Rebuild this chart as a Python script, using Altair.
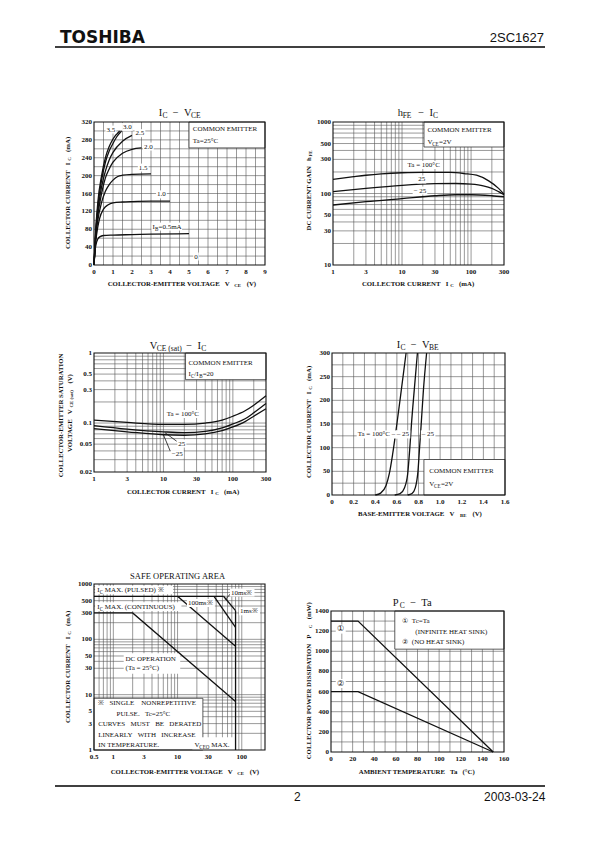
import altair as alt
import pandas as pd

# ====================== DATA ======================
# Panel 1 : IC - VCE  (IB parameter, mA)
vce_x_05 = [0, 0.05, 0.1, 0.2, 0.3, 0.5, 1, 2, 3, 5]
vce_y_05 = [0, 30, 45, 58, 63, 66, 67, 68, 69, 70]
vce_x_10 = [0, 0.1, 0.2, 0.3, 0.5, 0.75, 1, 1.5, 2, 3, 4]
vce_y_10 = [0, 55, 85, 105, 125, 135, 139, 141, 142, 143, 143]
vce_x_15 = [0, 0.1, 0.2, 0.4, 0.6, 0.8, 1, 1.25, 1.5, 2, 3]
vce_y_15 = [0, 65, 100, 140, 165, 180, 190, 198, 201, 203, 204]
vce_x_20 = [0, 0.1, 0.2, 0.4, 0.6, 0.8, 1, 1.5, 2, 2.5]
vce_y_20 = [0, 70, 110, 160, 195, 215, 230, 250, 259, 262]
vce_x_25 = [0, 0.1, 0.2, 0.4, 0.6, 0.8, 1, 1.5, 2]
vce_y_25 = [0, 75, 120, 175, 210, 235, 252, 277, 290]
vce_x_30 = [0, 0.1, 0.2, 0.4, 0.6, 0.8, 1, 1.2, 1.45]
vce_y_30 = [0, 80, 130, 190, 230, 255, 272, 287, 300]
vce_x_35 = [0, 0.1, 0.2, 0.4, 0.6, 0.8, 1, 1.35]
vce_y_35 = [0, 85, 140, 200, 240, 265, 282, 300]
vce_xticks = [0, 1, 2, 3, 4, 5, 6, 7, 8, 9]
vce_yticks = [0, 40, 80, 120, 160, 200, 240, 280, 320]

# Panel 2 : hFE - IC
hfe_ic_100 = [1, 2, 3, 5, 10, 20, 50, 80, 120, 180, 250, 300]
hfe_100 = [158, 172, 180, 188, 195, 198, 197, 190, 180, 150, 118, 98]
hfe_ic_25 = [1, 3, 10, 30, 60, 100, 150, 200, 250, 300]
hfe_25 = [106, 118, 130, 137, 138, 135, 128, 118, 106, 96]
hfe_ic_m25 = [1, 3, 10, 30, 60, 100, 200, 300]
hfe_m25 = [69, 77, 85, 93, 96, 96, 93, 90]
log_xticks = [1, 3, 10, 30, 100, 300]
hfe_yticks = [10, 30, 50, 100, 300, 500, 1000]

# Panel 3 : VCE(sat) - IC
sat_ic = [1, 3, 10, 20, 40, 70, 100, 150, 200, 300]
sat_100 = [0.11, 0.102, 0.096, 0.096, 0.1, 0.11, 0.125, 0.15, 0.18, 0.245]
sat_25 = [0.092, 0.082, 0.075, 0.073, 0.076, 0.085, 0.097, 0.115, 0.14, 0.19]
sat_m25 = [0.083, 0.075, 0.068, 0.067, 0.07, 0.078, 0.088, 0.105, 0.125, 0.16]
sat_yticks = [0.02, 0.05, 0.1, 0.3, 0.5, 1]

# Panel 4 : IC - VBE
vbe_x_100 = [0.40, 0.45, 0.50, 0.53, 0.56, 0.60, 0.64, 0.685]
vbe_y_100 = [0, 4, 20, 45, 85, 150, 220, 300]
vbe_x_25 = [0.58, 0.63, 0.67, 0.70, 0.72, 0.735, 0.76, 0.79]
vbe_y_25 = [0, 3, 15, 45, 100, 150, 220, 300]
vbe_x_m25 = [0.70, 0.74, 0.77, 0.795, 0.81, 0.825, 0.845, 0.875]
vbe_y_m25 = [0, 3, 15, 50, 100, 150, 220, 300]
vbe_xticks = [0, 0.2, 0.4, 0.6, 0.8, 1.0, 1.2, 1.4, 1.6]
vbe_xlabels = ["0", "0.2", "0.4", "0.6", "0.8", "1.0", "1.2", "1.4", "1.6"]
vbe_yticks = [0, 50, 100, 150, 200, 250, 300]

# Panel 5 : Safe operating area
soa_pulsed_v = [0.5, 52]
soa_pulsed_i = [600, 600]
soa_1ms_v = [52, 80]
soa_1ms_i = [600, 330]
soa_10ms_v = [37, 80]
soa_10ms_i = [600, 165]
soa_100ms_v = [10, 80]
soa_100ms_i = [600, 75]
soa_dc_v = [0.5, 2, 80]
soa_dc_i = [300, 300, 7.5]
soa_vceo_v = [80, 80]
soa_vceo_i = [330, 1]
soa_xticks = [0.5, 1, 3, 10, 30, 100]
soa_yticks = [1, 3, 5, 10, 30, 50, 100, 300, 500, 1000]

# Panel 6 : PC - Ta
pc_ta_1 = [0, 25, 150]
pc_1 = [1300, 1300, 0]
pc_ta_2 = [0, 25, 150]
pc_2 = [600, 600, 0]
pc_xticks = [0, 20, 40, 60, 80, 100, 120, 140, 160]
pc_yticks = [0, 200, 400, 600, 800, 1000, 1200, 1400]

# ====================== HELPERS ======================
SERIF = "Liberation Serif"
SANS = "Liberation Sans"
M = 8
NB = "\u00a0"
WS = " " + NB
SUBF = 0.72
ONE = pd.DataFrame({"k": [0]})
INK = "#111111"
GRID = "#555555"


def tw(s, size, weight="normal"):
    w = 0.0
    for ch in s:
        if ch in "※①②":
            w += 1.0
        elif ch in "MW":
            w += 0.9
        elif ch == "I":
            w += 0.36
        elif ch.isupper():
            w += 0.68
        elif ch in "ilj":
            w += 0.28
        elif ch in "mw":
            w += 0.74
        elif ch in "tfr":
            w += 0.34
        elif ch.islower():
            w += 0.47
        elif ch.isdigit():
            w += 0.5
        elif ch in WS + ".,:":
            w += 0.25
        elif ch in "()/-":
            w += 0.33
        elif ch in "=−–":
            w += 0.56
        elif ch == "°":
            w += 0.4
        else:
            w += 0.5
    return w * size * (1.06 if weight == "bold" else 1.0)


def rich(parts, size, x, y, panel=None, align="center", angle=0, weight="normal", font=SERIF, bg=False):
    if isinstance(parts, str):
        parts = [(parts, 0)]
    segs = []
    for s, sb in parts:
        fs = size * (SUBF if sb else 1)
        core = s.strip(WS)
        lead = s[:len(s) - len(s.lstrip(WS))]
        trail = s[len(s.rstrip(WS)):] if core else ""
        segs.append((core, sb, fs, tw(lead, fs, weight), tw(core, fs, weight), tw(trail, fs, weight)))
    total = sum(a + b + c for (_, _, _, a, b, c) in segs)
    start = {"left": 0, "center": -total / 2, "right": -total}[align]
    pos = pd.DataFrame({"x": [x], "y": [y]})
    out = []
    if bg and panel is not None:
        out.append(alt.Chart(pos).mark_rect(
            fill="white", width=total + 2, height=size + 1, xOffset=start + total / 2).encode(
            x=panel.X("x"), y=panel.Y("y")))
    off = start
    for core, sb, fs, lw, cw, trw in segs:
        off += lw
        if core:
            mk = dict(text=core, font=font, fontSize=fs, fontWeight=weight, color=INK,
                      align="left", baseline="middle", angle=angle, dx=off,
                      dy=size * 0.3 if sb else 0)
            if panel is not None:
                c = alt.Chart(pos).mark_text(**mk).encode(x=panel.X("x"), y=panel.Y("y"))
            else:
                c = alt.Chart(ONE).mark_text(**mk).encode(x=alt.value(x - M), y=alt.value(y - M))
            out.append(c)
        off += cw + trw
    return out


class Panel:
    def __init__(self, box, xdom, ydom, xtype, ytype):
        self.x0, self.x1, self.y0, self.y1 = box
        self.xdom, self.ydom = xdom, ydom
        self.xs = alt.Scale(type=xtype, domain=xdom, range=[self.x0 - M, self.x1 - M], nice=False)
        self.ys = alt.Scale(type=ytype, domain=ydom, range=[self.y1 - M, self.y0 - M], nice=False)
        self.layers = []

    def X(self, f):
        return alt.X(f"{f}:Q", scale=self.xs, axis=None)

    def Y(self, f):
        return alt.Y(f"{f}:Q", scale=self.ys, axis=None)

    def grid(self, xv, yv, color=GRID, width=0.6):
        dv = pd.DataFrame({"v": xv, "a": self.ydom[0], "b": self.ydom[1]})
        self.layers.append(alt.Chart(dv).mark_rule(color=color, strokeWidth=width).encode(
            x=self.X("v"), y=self.Y("a"), y2=alt.Y2("b")))
        dh = pd.DataFrame({"v": yv, "a": self.xdom[0], "b": self.xdom[1]})
        self.layers.append(alt.Chart(dh).mark_rule(color=color, strokeWidth=width).encode(
            y=self.Y("v"), x=self.X("a"), x2=alt.X2("b")))

    def rect(self, xa, xb, ya, yb, stroke=None, sw=0.8):
        d = pd.DataFrame({"xa": [xa], "xb": [xb], "ya": [ya], "yb": [yb]})
        kw = dict(fill="white")
        if stroke:
            kw.update(stroke=stroke, strokeWidth=sw)
        self.layers.append(alt.Chart(d).mark_rect(**kw).encode(
            x=self.X("xa"), x2=alt.X2("xb"), y=self.Y("ya"), y2=alt.Y2("yb")))

    def frame(self):
        d = pd.DataFrame({"xa": [self.xdom[0]], "xb": [self.xdom[1]],
                          "ya": [self.ydom[0]], "yb": [self.ydom[1]]})
        self.layers.append(alt.Chart(d).mark_rect(fillOpacity=0, stroke=INK, strokeWidth=1.1).encode(
            x=self.X("xa"), x2=alt.X2("xb"), y=self.Y("ya"), y2=alt.Y2("yb")))

    def line(self, xv, yv, width=1.3, interp="monotone"):
        d = pd.DataFrame({"x": xv, "y": yv})
        self.layers.append(alt.Chart(d).mark_line(color=INK, strokeWidth=width, interpolate=interp).encode(
            x=self.X("x"), y=self.Y("y")))

    def xticks(self, vals, labels=None, size=7):
        labels = labels or [f"{v:g}" for v in vals]
        d = pd.DataFrame({"v": vals, "t": labels, "b": self.ydom[0]})
        self.layers.append(alt.Chart(d).mark_text(
            font=SERIF, fontSize=size, fontWeight="bold", color=INK, align="center",
            baseline="middle", dy=7).encode(x=self.X("v"), y=self.Y("b"), text="t:N"))

    def yticks(self, vals, labels=None, size=7):
        labels = labels or [f"{v:g}" for v in vals]
        d = pd.DataFrame({"v": vals, "t": labels, "a": self.xdom[0]})
        self.layers.append(alt.Chart(d).mark_text(
            font=SERIF, fontSize=size, fontWeight="bold", color=INK, align="right",
            baseline="middle", dx=-2).encode(x=self.X("a"), y=self.Y("v"), text="t:N"))

    def text(self, parts, x, y, size=7, align="left", weight="normal", bg=True):
        self.layers += rich(parts, size, x, y, panel=self, align=align, weight=weight, bg=bg)

    def chart(self):
        return alt.layer(*self.layers)


def sp(n=2):
    return NB * n


TT = 10.5   # chart title size
AT = 6.8    # axis title size
deco = []

# ====================== PANEL 1 : IC - VCE ======================
p1 = Panel((94, 265, 122, 265), [0, 9], [0, 320], "linear", "linear")
p1.grid([i * 0.5 for i in range(1, 18)], [i * 20 for i in range(1, 16)])
p1.rect(5.0, 9, 262, 320, stroke="#333")
p1.frame()
for xv, yv in [(vce_x_05, vce_y_05), (vce_x_10, vce_y_10), (vce_x_15, vce_y_15), (vce_x_20, vce_y_20),
               (vce_x_25, vce_y_25), (vce_x_30, vce_y_30), (vce_x_35, vce_y_35)]:
    p1.line(xv, yv)
p1.xticks(vce_xticks)
p1.yticks(vce_yticks)
p1.text("3.5", 0.89, 303, align="center")
p1.text("3.0", 1.76, 309, align="center")
p1.text("2.5", 2.42, 295, align="center")
p1.text("2.0", 2.86, 265, align="center")
p1.text("1.5", 2.59, 218, align="center")
p1.text("1.0", 3.55, 158, align="center")
p1.text([("I", 0), ("B", 1), ("=0.5mA", 0)], 3.83, 86, align="center")
p1.text("0", 5.37, 19, align="center")
p1.text("COMMON" + sp(1) + "EMITTER", 5.2, 304, bg=False)
p1.text("Ta=25°C", 5.2, 278, bg=False)
deco += rich([("I", 0), ("C", 1), (sp(2) + "−" + sp(2) + "V", 0), ("CE", 1)], TT, 180, 113)
deco += rich([("COLLECTOR-EMITTER VOLTAGE" + sp(3) + "V", 0), ("CE", 1), (sp(3) + "(V)", 0)], AT, 182, 284, weight="bold")
deco += rich([("COLLECTOR CURRENT" + sp(3) + "I", 0), ("C", 1), (sp(3) + "(mA)", 0)], AT, 68, 193, angle=270, weight="bold")

# ====================== PANEL 2 : hFE - IC ======================
p2 = Panel((333, 504, 122, 265), [1, 300], [10, 1000], "log", "log")
lx = [2, 3, 4, 5, 6, 7, 8, 9, 10, 20, 30, 40, 50, 60, 70, 80, 90, 100, 200]
p2.grid(lx, [20, 30, 40, 50, 60, 70, 80, 90, 100, 200, 300, 400, 500, 600, 700, 800, 900])
p2.rect(20.8, 300, 447, 1000, stroke="#333")
p2.frame()
p2.line(hfe_ic_100, hfe_100)
p2.line(hfe_ic_25, hfe_25)
p2.line(hfe_ic_m25, hfe_m25)
p2.xticks(log_xticks)
p2.yticks(hfe_yticks)
p2.text("COMMON" + sp(1) + "EMITTER", 23.3, 773, bg=False)
p2.text([("V", 0), ("CE", 1), ("=2V", 0)], 23.3, 520, bg=False)
p2.text("Ta" + sp(1) + "=" + sp(1) + "100°C", 21, 250, align="center")
p2.text("25", 19.3, 157, align="center")
p2.text("−" + sp(1) + "25", 18.2, 110, align="center")
deco += rich([("h", 0), ("FE", 1), (sp(2) + "−" + sp(2) + "I", 0), ("C", 1)], TT, 418, 113)
deco += rich([("COLLECTOR CURRENT" + sp(3) + "I", 0), ("C", 1), (sp(3) + "(mA)", 0)], AT, 418, 284, weight="bold")
deco += rich([("DC CURRENT GAIN" + sp(3) + "h", 0), ("FE", 1)], AT, 309, 190, angle=270, weight="bold")

# ====================== PANEL 3 : VCE(sat) - IC ======================
p3 = Panel((94, 266, 353, 472), [1, 300], [0.02, 1], "log", "log")
p3.grid(lx, [0.03, 0.04, 0.05, 0.06, 0.07, 0.08, 0.09, 0.1, 0.2, 0.3, 0.4, 0.5, 0.6, 0.7, 0.8, 0.9])
p3.rect(20.8, 300, 0.416, 1, stroke="#333")
p3.frame()
p3.line(sat_ic, sat_100)
p3.line(sat_ic, sat_25)
p3.line(sat_ic, sat_m25)
p3.line([10.5, 15.5], [0.073, 0.055], width=0.8, interp="linear")
p3.line([10, 12.5], [0.068, 0.04], width=0.8, interp="linear")
p3.xticks(log_xticks)
p3.yticks(sat_yticks)
p3.text("COMMON" + sp(1) + "EMITTER", 22.9, 0.71, bg=False)
p3.text([("I", 0), ("C", 1), ("/I", 0), ("B", 1), ("=20", 0)], 22.9, 0.5, bg=False)
p3.text("Ta" + sp(1) + "=" + sp(1) + "100°C", 19.4, 0.135, align="center")
p3.text("25", 16.4, 0.051)
p3.text("−25", 13.2, 0.036)
deco += rich([("V", 0), ("CE (sat)", 1), (sp(1) + "−" + sp(2) + "I", 0), ("C", 1)], TT, 178, 346)
deco += rich([("COLLECTOR CURRENT" + sp(3) + "I", 0), ("C", 1), (sp(3) + "(mA)", 0)], AT, 183, 492, weight="bold")
deco += rich("COLLECTOR-EMITTER SATURATION", AT, 61, 413, angle=270, weight="bold")
deco += rich([("VOLTAGE" + sp(3) + "V", 0), ("CE (sat)", 1), (sp(3) + "(V)", 0)], AT, 70, 413, angle=270, weight="bold")

# ====================== PANEL 4 : IC - VBE ======================
p4 = Panel((332, 505, 353, 495), [0, 1.6], [0, 300], "linear", "linear")
p4.grid([i * 0.1 for i in range(1, 16)], [i * 25 for i in range(1, 12)])
p4.rect(0.85, 1.6, 0, 75, stroke="#333")
p4.frame()
p4.line(vbe_x_100, vbe_y_100)
p4.line(vbe_x_25, vbe_y_25)
p4.line(vbe_x_m25, vbe_y_m25)
p4.xticks(vbe_xticks, vbe_xlabels)
p4.yticks(vbe_yticks)
p4.text("COMMON" + sp(1) + "EMITTER", 0.9, 51, bg=False)
p4.text([("V", 0), ("CE", 1), ("=2V", 0)], 0.9, 23, bg=False)
p4.text("Ta" + sp(1) + "=" + sp(1) + "100°C" + sp(1) + "–", 0.6, 128, align="right")
p4.text("–" + sp(1) + "25", 0.715, 128, align="right")
p4.text("–" + sp(1) + "25", 0.83, 128)
deco += rich([("I", 0), ("C", 1), (sp(2) + "−" + sp(2) + "V", 0), ("BE", 1)], TT, 418, 345)
deco += rich([("BASE-EMITTER VOLTAGE" + sp(3) + "V", 0), ("BE", 1), (sp(3) + "(V)", 0)], AT, 420, 514, weight="bold")
deco += rich([("COLLECTOR CURRENT" + sp(3) + "I", 0), ("C", 1), (sp(3) + "(mA)", 0)], AT, 309, 422, angle=270, weight="bold")

# ====================== PANEL 5 : SAFE OPERATING AREA ======================
p5 = Panel((94, 265, 584, 750), [0.5, 230], [1, 1000], "log", "log")
p5.grid([0.6, 0.7, 0.8, 0.9, 1, 2, 3, 4, 5, 6, 7, 8, 9, 10, 20, 30, 40, 50, 60, 70, 80, 90, 100, 200],
        [2, 3, 4, 5, 6, 7, 8, 9, 10, 20, 30, 40, 50, 60, 70, 80, 90, 100, 200, 300, 400, 500, 600, 700, 800, 900])
p5.rect(0.52, 8.5, 650, 930)
p5.rect(0.52, 11.5, 325, 470)
p5.rect(1.45, 11, 24, 56)
p5.rect(0.5, 24.8, 1, 8.6, stroke="#333")
p5.rect(17, 78, 1, 1.7)
p5.frame()
p5.line(soa_pulsed_v, soa_pulsed_i, interp="linear")
p5.line(soa_1ms_v, soa_1ms_i, interp="linear")
p5.line(soa_10ms_v, soa_10ms_i, interp="linear")
p5.line(soa_100ms_v, soa_100ms_i, interp="linear")
p5.line(soa_dc_v, soa_dc_i, interp="linear")
p5.line(soa_vceo_v, soa_vceo_i, interp="linear")
p5.line([68, 55], [680, 520], width=0.8, interp="linear")
p5.xticks(soa_xticks)
p5.yticks(soa_yticks)
p5.text([("I", 0), ("C", 1), (sp(1) + "MAX." + sp(1) + "(PULSED)" + sp(1) + "※", 0)], 0.56, 770, bg=False)
p5.text([("I", 0), ("C", 1), (sp(1) + "MAX." + sp(1) + "(CONTINUOUS)", 0)], 0.56, 385, bg=False)
p5.text("DC" + sp(1) + "OPERATION", 1.55, 44, bg=False)
p5.text("(Ta" + sp(1) + "=" + sp(1) + "25°C)", 1.55, 30, bg=False)
p5.text("100ms※", 14.5, 454)
p5.text("10ms※", 68, 700)
p5.text("1ms※", 94, 321)
p5.text("※" + sp(3) + "SINGLE" + sp(4) + "NONREPETITIVE", 0.58, 6.96, bg=False)
p5.text("PULSE." + sp(3) + "Tc=25°C", 1.12, 4.47, bg=False)
p5.text("CURVES" + sp(3) + "MUST" + sp(3) + "BE" + sp(3) + "DERATED", 0.58, 2.9, bg=False)
p5.text("LINEARLY" + sp(3) + "WITH" + sp(3) + "INCREASE", 0.58, 1.86, bg=False)
p5.text("IN" + sp(1) + "TEMPERATURE.", 0.58, 1.23, bg=False)
p5.text([("V", 0), ("CEO", 1), (sp(1) + "MAX.", 0)], 18.4, 1.25, bg=False)
deco += rich("SAFE OPERATING AREA", 8.5, 180, 576)
deco += rich([("COLLECTOR-EMITTER VOLTAGE" + sp(3) + "V", 0), ("CE", 1), (sp(3) + "(V)", 0)], AT, 185, 772, weight="bold")
deco += rich([("COLLECTOR CURRENT" + sp(3) + "I", 0), ("C", 1), (sp(3) + "(mA)", 0)], AT, 68, 667, angle=270, weight="bold")

# ====================== PANEL 6 : PC - Ta ======================
p6 = Panel((331, 504, 611, 752), [0, 160], [0, 1400], "linear", "linear")
p6.grid([i * 10 for i in range(1, 16)], [i * 100 for i in range(1, 14)])
p6.rect(59, 160, 1021, 1400, stroke="#333")
p6.frame()
p6.line(pc_ta_1, pc_1, interp="linear")
p6.line(pc_ta_2, pc_2, interp="linear")
p6.xticks(pc_xticks)
p6.yticks(pc_yticks)
p6.text("①", 9, 1220, align="center", size=8)
p6.text("②", 9, 680, align="center", size=8)
p6.text("①" + sp(2) + "Tc=Ta", 66, 1300, bg=False)
p6.text("(INFINITE" + sp(1) + "HEAT" + sp(1) + "SINK)", 78, 1194, bg=False)
p6.text("②" + sp(2) + "(NO" + sp(1) + "HEAT" + sp(1) + "SINK)", 66, 1089, bg=False)
deco += rich([("P", 0), ("C", 1), (sp(2) + "−" + sp(2) + "Ta", 0)], TT, 413, 603)
deco += rich("AMBIENT TEMPERATURE" + sp(3) + "Ta" + sp(3) + "(°C)", AT, 420, 772, weight="bold")
deco += rich([("COLLECTOR POWER DISSIPATION" + sp(3) + "P", 0), ("C", 1), (sp(3) + "(mW)", 0)], AT, 309, 681, angle=270, weight="bold")

# ====================== PAGE HEADER / FOOTER ======================
deco += rich("TOSHIBA", 17, 60, 38, align="left", weight="bold", font="DejaVu Sans")
deco += rich("2SC1627", 13, 540, 38, align="right", font=SANS)
deco.append(alt.Chart(ONE).mark_rule(color="black", strokeWidth=1.3).encode(
    x=alt.value(55 - M), x2=alt.value(545 - M), y=alt.value(47 - M)))
deco.append(alt.Chart(ONE).mark_rule(color="black", strokeWidth=1.3).encode(
    x=alt.value(55 - M), x2=alt.value(545 - M), y=alt.value(786 - M)))
deco += rich("2", 12, 297, 797, font=SANS)
deco += rich("2003-03-24", 12, 540, 797, align="right", font=SANS)

chart = alt.layer(
    p1.chart(), p2.chart(), p3.chart(), p4.chart(), p5.chart(), p6.chart(), alt.layer(*deco)
).resolve_scale(x="independent", y="independent").properties(
    width=579, height=826, autosize=alt.AutoSizeParams(type="none"), padding=0
).configure_view(stroke=None)

chart.save("out.html", embed_options={"renderer": "svg", "actions": False})
